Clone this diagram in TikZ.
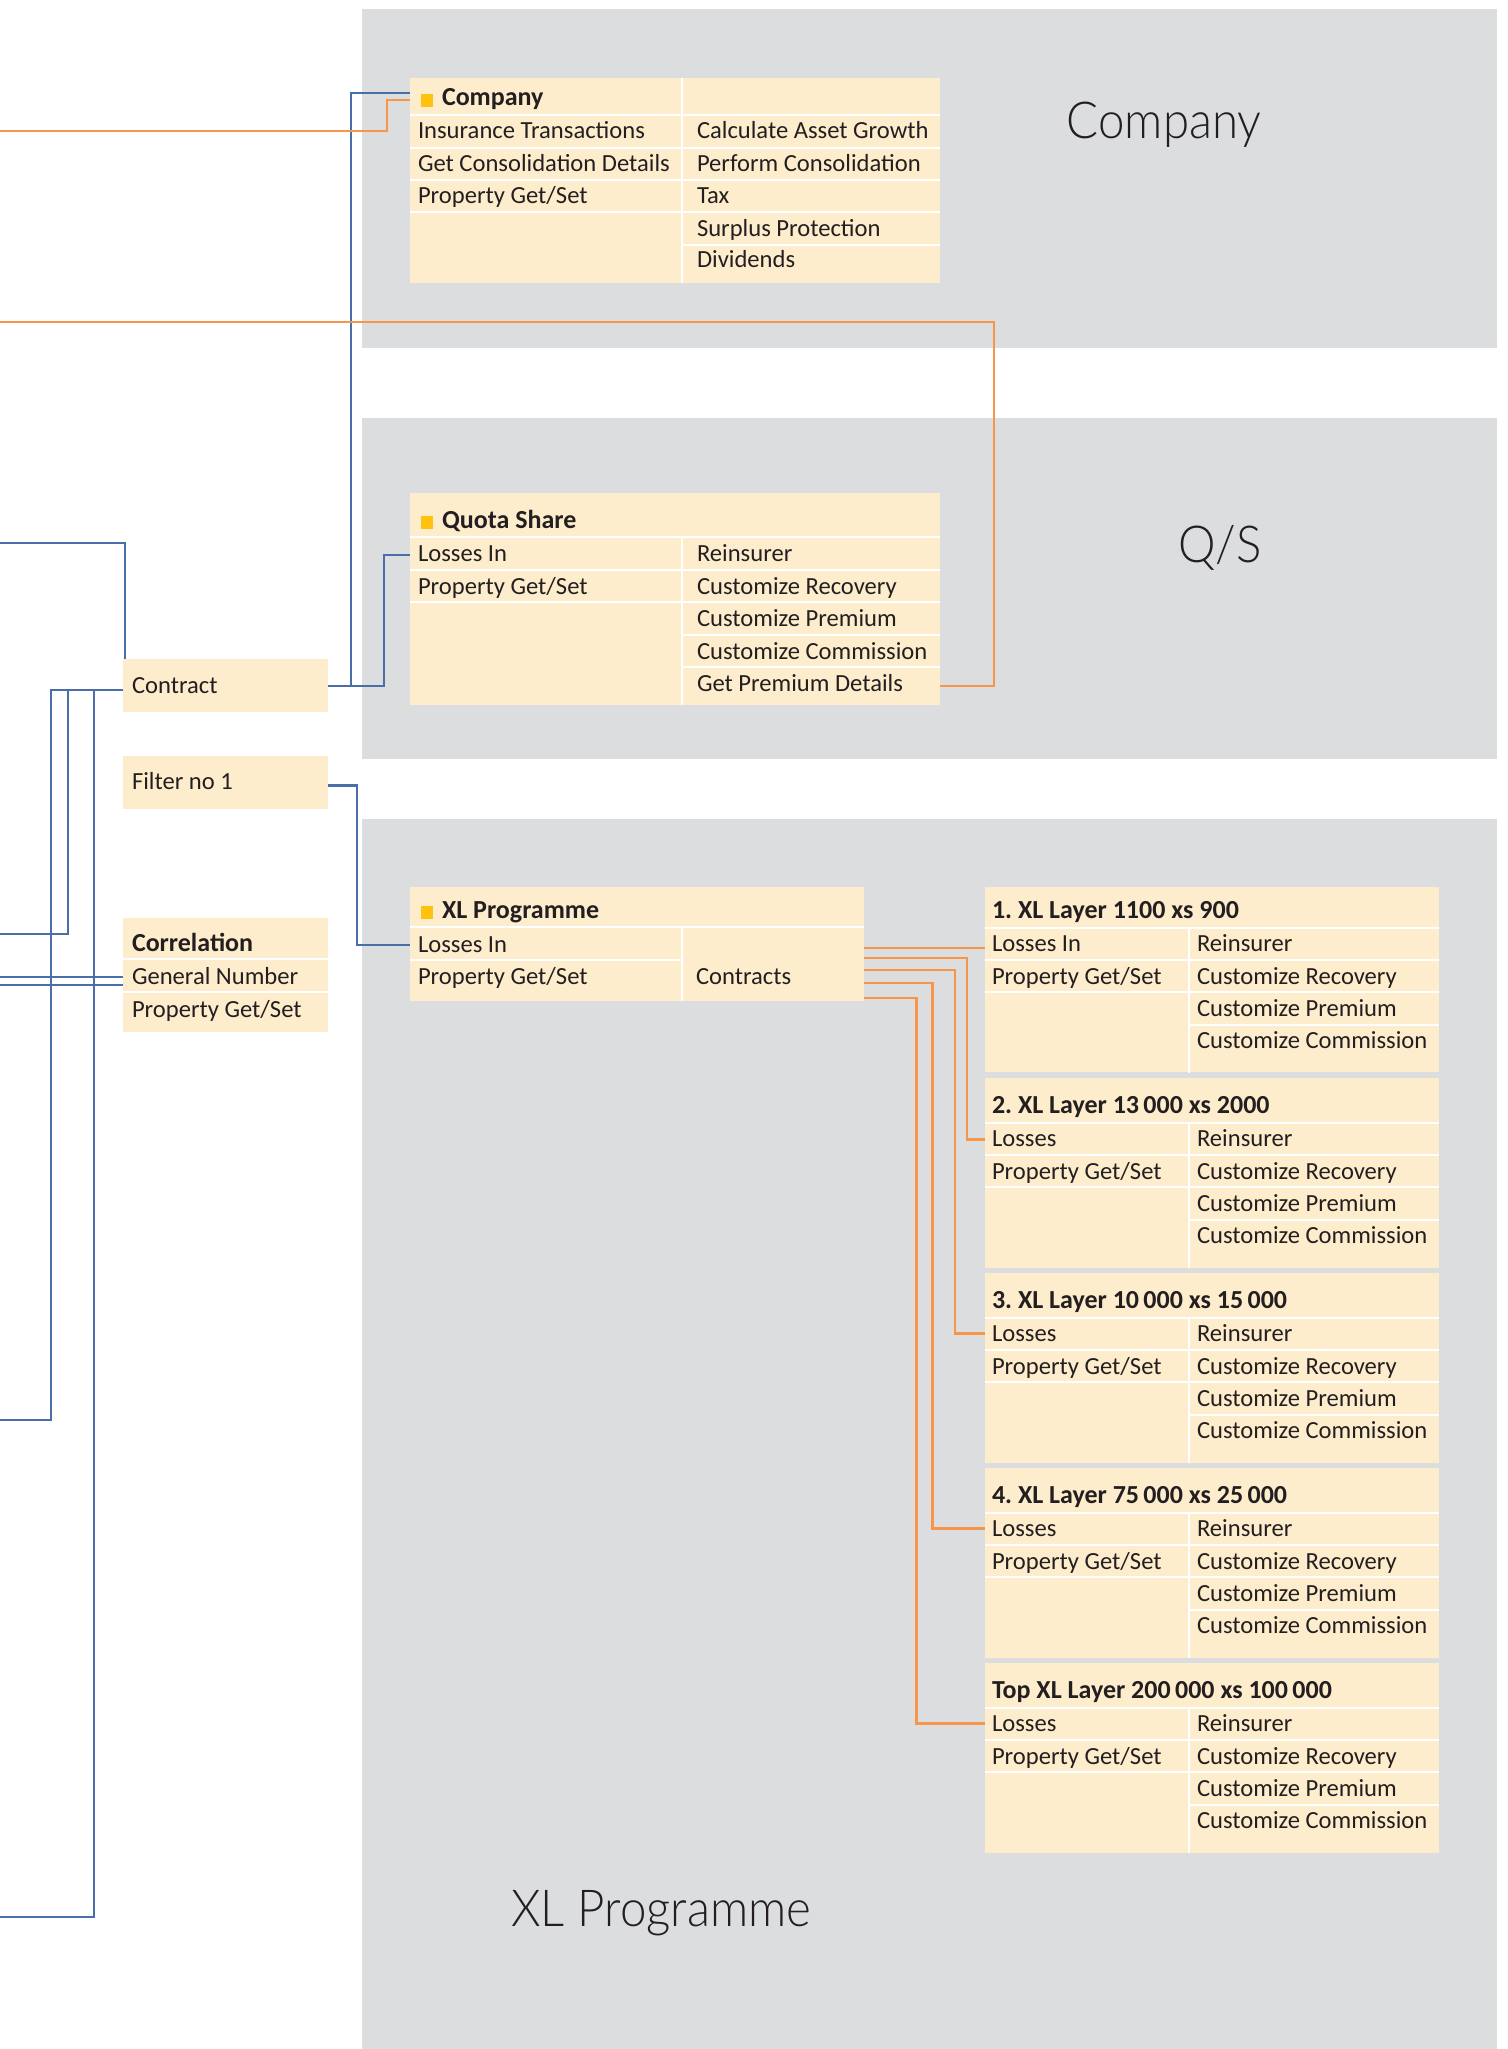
\documentclass[tikz,border=0pt]{standalone}
\usepackage{fontspec}
\setmainfont{Carlito}
\newfontfamily\lightfont{Lato}[UprightFont=* Light, FakeStretch=0.93]
\usetikzlibrary{calc}
\definecolor{panelgray}{RGB}{220,221,223}
\definecolor{cream}{RGB}{254,237,205}
\definecolor{gold}{RGB}{255,194,14}
\definecolor{blueline}{RGB}{74,111,168}
\definecolor{orangeline}{RGB}{247,149,75}
\definecolor{ink}{RGB}{35,31,32}
\newcommand\tfont{\frenchspacing\fontsize{12.3}{14}\selectfont}
\newcommand\hfont{\frenchspacing\fontsize{13}{15}\selectfont\bfseries}
\newcommand\bigfont{\lightfont\fontsize{25.5}{30}\selectfont}
\tikzset{
  panel/.style={anchor=north west, inner sep=0pt, outer sep=0pt, fill=panelgray, draw=none},
  box/.style={anchor=north west, inner sep=0pt, outer sep=0pt, fill=cream, draw=none},
  txt/.style={anchor=base west, inner sep=0pt, outer sep=0pt, font=\tfont, text=ink},
  hdr/.style={txt, font=\hfont},
  big/.style={anchor=base east, inner sep=0pt, font=\bigfont, text=ink},
  sep/.style={draw=white, line width=1pt},
  sq/.style={fill=gold},
  bl/.style={draw=blueline, line width=1.05pt},
  orl/.style={draw=orangeline, line width=1.15pt}
}
\begin{document}
\begin{tikzpicture}[x=0.5pt,y=-0.5pt]
\fill[white] (0,0) rectangle (1508,2049);
\useasboundingbox (0,0) rectangle (1508,2049);

% ---------- panels ----------
\node[panel, minimum width=567.5pt, minimum height=169.5pt] (pcomp) at (362,9) {};
\node[panel, minimum width=567.5pt, minimum height=170.5pt] (pqs) at (362,418) {};
\node[panel, minimum width=567.5pt, minimum height=615pt] (pxl) at (362,819) {};
\node[big] (lcomp) at (1262,139) {Company};
\node[big] (lqs) at (1262,562) {Q/S};
\node[big, anchor=base west] (lxl) at (511,1926) {XL Programme};

% ---------- Company table ----------
\node[box, minimum width=265pt, minimum height=102.5pt] (company) at (410,78) {};
\draw[sep] (682,78) -- (682,283);
\foreach \y in {115,148,180,212} \draw[sep] (410,\y) -- (940,\y);
\draw[sep] (682,245) -- (940,245);
\fill[sq] (421,94) rectangle (433,107);
\node[hdr] (cHead) at (442,106) {Company};
\node[txt] (cIns) at (418,139) {Insurance Transactions};
\node[txt] (cGet) at (418,172) {Get Consolidation Details};
\node[txt] (cProp) at (418,204) {Property Get/Set};
\node[txt] (cCalc) at (697,139) {Calculate Asset Growth};
\node[txt] (cPerf) at (697,172) {Perform Consolidation};
\node[txt] (cTax) at (697,204) {Tax};
\node[txt] (cSurp) at (697,236) {Surplus Protection};
\node[txt] (cDiv) at (697,268) {Dividends};

% ---------- Quota Share table ----------
\node[box, minimum width=265pt, minimum height=106pt] (qs) at (410,493) {};
\draw[sep] (682,537) -- (682,705);
\foreach \y in {537,570,602} \draw[sep] (410,\y) -- (940,\y);
\foreach \y in {635,667} \draw[sep] (682,\y) -- (940,\y);
\fill[sq] (421,516) rectangle (433,529);
\node[hdr] (qHead) at (442,528) {Quota Share};
\node[txt] (qLoss) at (418,561) {Losses In};
\node[txt] (qProp) at (418,594) {Property Get/Set};
\node[txt] (qRein) at (697,561) {Reinsurer};
\node[txt] (qRec) at (697,594) {Customize Recovery};
\node[txt] (qPrem) at (697,626) {Customize Premium};
\node[txt] (qComm) at (697,659) {Customize Commission};
\node[txt] (qGet) at (697,691) {Get Premium Details};

% ---------- left boxes ----------
\node[box, minimum width=102.5pt, minimum height=26.5pt] (contract) at (123,659) {};
\node[txt] (tContract) at (132,693) {Contract};
\node[box, minimum width=102.5pt, minimum height=26.5pt] (filter) at (123,756) {};
\node[txt] (tFilter) at (132,789) {Filter no 1};
\node[box, minimum width=102.5pt, minimum height=57pt] (corr) at (123,918) {};
\foreach \y in {959,992} \draw[sep] (123,\y) -- (328,\y);
\node[hdr] (rHead) at (132,951) {Correlation};
\node[txt] (rGen) at (132,984) {General Number};
\node[txt] (rProp) at (132,1017) {Property Get/Set};

% ---------- XL Programme table ----------
\node[box, minimum width=227pt, minimum height=57pt] (xlp) at (410,887) {};
\draw[sep] (682,927) -- (682,1001);
\draw[sep] (410,927) -- (864,927);
\draw[sep] (410,960) -- (682,960);
\fill[sq] (421,906) rectangle (433,919);
\node[hdr] (xHead) at (442,918) {XL Programme};
\node[txt] (xLoss) at (418,952) {Losses In};
\node[txt] (xProp) at (418,984) {Property Get/Set};
\node[txt] (xCon) at (696,984) {Contracts};

% ---------- layers ----------
\foreach \k/\tp/\hb/\hh/\ttl/\loss in {
  1/887/927.5/92.5/{1. XL Layer 1100 xs 900}/{Losses In},
  2/1077.5/1122.5/95/{2. XL Layer 13\,000 xs 2000}/{Losses},
  3/1272.5/1317.5/95/{3. XL Layer 10\,000 xs 15\,000}/{Losses},
  4/1467.5/1512.5/95/{4. XL Layer 75\,000 xs 25\,000}/{Losses},
  5/1662.5/1707.5/95/{Top XL Layer 200\,000 xs 100\,000}/{Losses}}{
  \node[box, minimum width=227pt, minimum height=\hh pt] (layer\k) at (985,\tp) {};
  \draw[sep] (985,\hb) -- (1439,\hb);
  \draw[sep] (985,\hb+32) -- (1439,\hb+32);
  \draw[sep] (985,\hb+64.5) -- (1439,\hb+64.5);
  \draw[sep] (1189,\hb+97) -- (1439,\hb+97);
  \draw[sep] (1189,\hb) -- (1189,\hb+145);
  \node[hdr] (lt\k) at (992,\hb-9) {\ttl};
  \node[txt] (ll\k) at (992,\hb+24) {\loss};
  \node[txt] (lp\k) at (992,\hb+56.5) {Property Get/Set};
  \node[txt] (lr\k) at (1197,\hb+24) {Reinsurer};
  \node[txt] (lcr\k) at (1197,\hb+56.5) {Customize Recovery};
  \node[txt] (lcp\k) at (1197,\hb+89) {Customize Premium};
  \node[txt] (lcc\k) at (1197,\hb+121) {Customize Commission};
}

% ---------- free ends at the left edge ----------
\coordinate (La) at (0,543);
\coordinate (Ld) at (0,1420);
\coordinate (Le) at (0,934);
\coordinate (Lf) at (0,1917);
\coordinate (Lg) at (0,977);
\coordinate (Lh) at (0,985);
\coordinate (Lj) at (0,131);
\coordinate (Lk) at (0,322);

% ---------- blue connectors ----------
\draw[bl] (La) -| ($(contract.north west)+(2,0)$);
\draw[bl] ($(contract.east)+(0,0.5)$) -- ++(56,0) |- ($(qs.north west)+(0,62)$);
\draw[bl] ($(contract.east)+(0,0.5)$) -- ++(23,0) |- ($(company.north west)+(0,15)$);
\draw[bl] ($(contract.west)+(0,4.5)$) -- ++(-72,0) |- (Ld);
\draw[bl] ($(contract.west)+(0,4.5)$) -- ++(-55,0) |- (Le);
\draw[bl] ($(contract.west)+(0,4.5)$) -- ++(-29,0) |- (Lf);
\draw[bl] (Lg) -- ($(corr.north west)+(0,59)$);
\draw[bl] (Lh) -- ($(corr.north west)+(0,67)$);
\draw[bl] ($(filter.east)+(0,3)$) -- ++(29,0) |- ($(xlp.north west)+(0,58)$);

% ---------- orange connectors ----------
\draw[orl] ($(company.north west)+(0,22)$) -- ++(-23,0) |- (Lj);
\draw[orl] ($(qs.north east)+(0,193)$) -- ++(54,0) |- (Lk);
\draw[orl] ($(xlp.north east)+(0,61)$) -- ($(layer1.north west)+(0,61)$);
\draw[orl] ($(xlp.north east)+(0,71)$) -- ++(103,0) |- ($(layer2.north west)+(0,62)$);
\draw[orl] ($(xlp.north east)+(0,83)$) -- ++(91,0) |- ($(layer3.north west)+(0,61)$);
\draw[orl] ($(xlp.north east)+(0,96)$) -- ++(68.5,0) |- ($(layer4.north west)+(0,61)$);
\draw[orl] ($(xlp.north east)+(0,111)$) -- ++(52.5,0) |- ($(layer5.north west)+(0,61)$);
\end{tikzpicture}
\end{document}
